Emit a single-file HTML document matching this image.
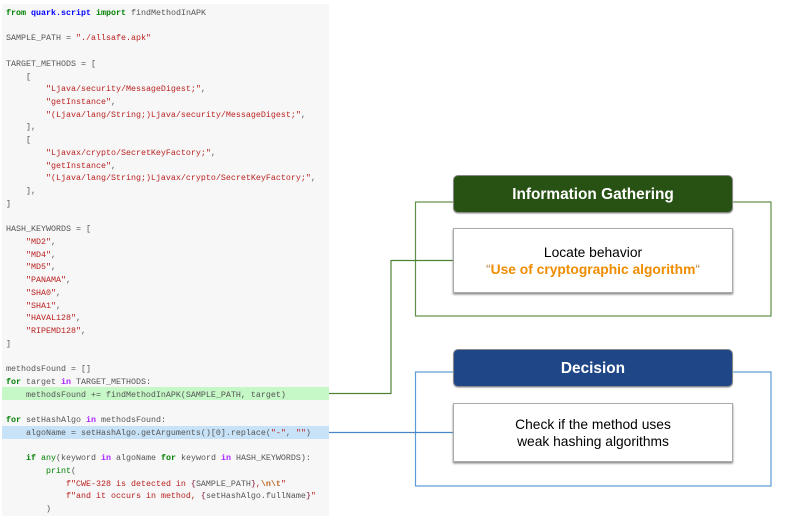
<!DOCTYPE html>
<html>
<head>
<meta charset="utf-8">
<style>
html,body{margin:0;padding:0;background:#fff}
#p{position:relative;width:785px;height:516px;overflow:hidden;background:#fff;font-family:"Liberation Sans",sans-serif}
#code{position:absolute;left:2px;top:4px;width:327px;height:512px;background:#f7f7f7}
.hl{position:absolute;left:2px;width:327px;height:13px}
pre{position:absolute;left:6px;top:7px;margin:0;font:8.33px/12.72px "Liberation Mono",monospace;color:#555;filter:blur(.25px)}
.k{color:#008000;font-weight:bold}.n{color:#0000ff;font-weight:bold}.s{color:#ba2121}.o{color:#aa22ff;font-weight:bold}.g{color:#008000}.e{color:#bb6622;font-weight:bold}.i{color:#a45a77;font-weight:bold}
svg{position:absolute;left:0;top:0}
.h,.b{position:absolute;left:453px;width:280px;box-sizing:border-box;text-align:center}
.h{height:38px;line-height:37px;border-radius:5px;color:#fff;font-weight:bold;font-size:15.4px;border:1px solid #888;box-shadow:0 1px 1px #bbb}
.b{background:#fff;border:1px solid #aaa;box-shadow:0 1.5px 2px #888;font-size:13.8px;line-height:17px;color:#000}
</style>
</head>
<body>
<div id="p">
<div id="code"></div>
<div class="hl" style="top:387px;background:#c6f7c6"></div>
<div class="hl" style="top:426px;background:#c8e3f8"></div>
<pre><span class="k">from</span> <span class="n">quark.script</span> <span class="k">import</span> findMethodInAPK

SAMPLE_PATH = <span class="s">"./allsafe.apk"</span>

TARGET_METHODS = [
    [
        <span class="s">"Ljava/security/MessageDigest;"</span>,
        <span class="s">"getInstance"</span>,
        <span class="s">"(Ljava/lang/String;)Ljava/security/MessageDigest;"</span>,
    ],
    [
        <span class="s">"Ljavax/crypto/SecretKeyFactory;"</span>,
        <span class="s">"getInstance"</span>,
        <span class="s">"(Ljava/lang/String;)Ljavax/crypto/SecretKeyFactory;"</span>,
    ],
]

HASH_KEYWORDS = [
    <span class="s">"MD2"</span>,
    <span class="s">"MD4"</span>,
    <span class="s">"MD5"</span>,
    <span class="s">"PANAMA"</span>,
    <span class="s">"SHA0"</span>,
    <span class="s">"SHA1"</span>,
    <span class="s">"HAVAL128"</span>,
    <span class="s">"RIPEMD128"</span>,
]

methodsFound = []
<span class="k">for</span> target <span class="o">in</span> TARGET_METHODS:
    methodsFound += findMethodInAPK(SAMPLE_PATH, target)

<span class="k">for</span> setHashAlgo <span class="o">in</span> methodsFound:
    algoName = setHashAlgo.getArguments()[0].replace(<span class="s">"-"</span>, <span class="s">""</span>)

    <span class="k">if</span> <span class="g">any</span>(keyword <span class="o">in</span> algoName <span class="k">for</span> keyword <span class="o">in</span> HASH_KEYWORDS):
        <span class="g">print</span>(
            <span class="s">f"CWE-328 is detected in </span><span class="i">{</span>SAMPLE_PATH<span class="i">}</span><span class="s">,</span><span class="e">\n\t</span><span class="s">"</span>
            <span class="s">f"and it occurs in method, </span><span class="i">{</span>setHashAlgo.fullName<span class="i">}</span><span class="s">"</span>
        )</pre>
<svg width="785" height="516" fill="none">
<rect x="415.5" y="202" width="355.5" height="114" stroke="#5f8f47" stroke-width="1.2"/>
<rect x="415.5" y="372" width="355.5" height="114" stroke="#5b9bd5" stroke-width="1.2"/>
<path d="M329 393.5H391V260.5H453" stroke="#4f8234" stroke-width="1.2"/>
<path d="M329 432.5H453" stroke="#4a86c5" stroke-width="1.2"/>
</svg>
<div class="h" style="top:175px;background:#285214">Information Gathering</div>
<div class="b" style="top:228px;height:65px;padding-top:15px">Locate behavior<br><span style="color:#b5894a">“</span><b style="color:#f08c00">Use of cryptographic algorithm</b><span style="color:#b5894a">“</span></div>
<div class="h" style="top:349px;background:#1f4788">Decision</div>
<div class="b" style="top:403px;height:59px;padding-top:12px">Check if the method uses<br>weak hashing algorithms</div>
</div>
</body>
</html>
